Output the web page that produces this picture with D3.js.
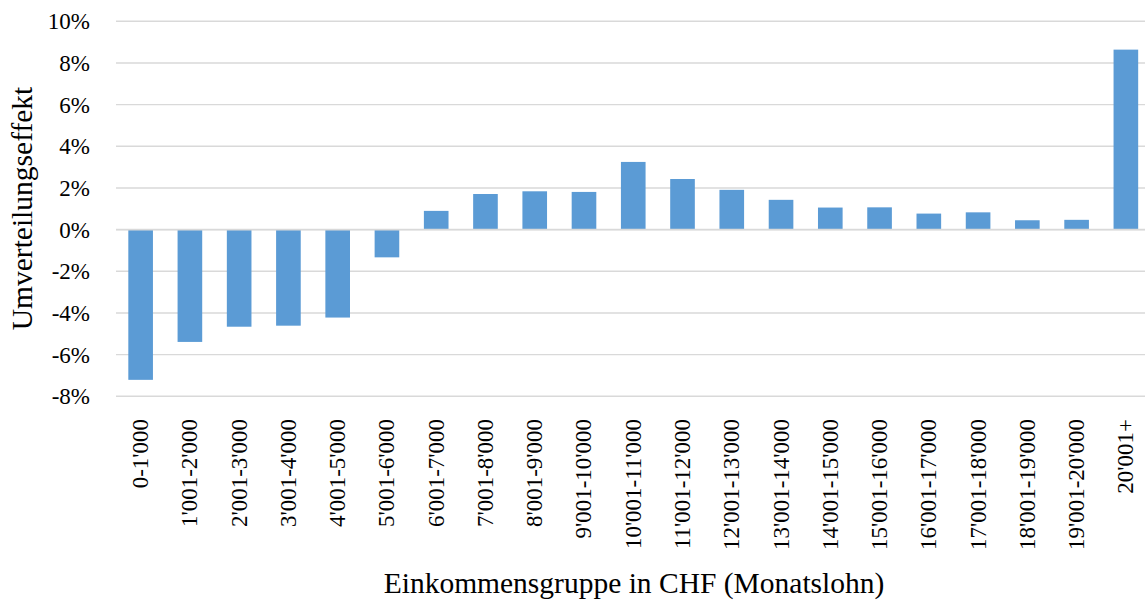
<!DOCTYPE html>
<html>
<head>
<meta charset="utf-8">
<script src="https://cdn.jsdelivr.net/npm/d3@7"></script>
<style>
  html, body { margin: 0; padding: 0; background: #fff; }
  svg { display: block; }
  text { font-family: "Liberation Serif", "DejaVu Serif", serif; fill: #000; }
</style>
</head>
<body>
<svg id="chart" width="1145" height="600"></svg>
<script>
// Income groups (monthly wage, CHF)
const categories = [
  "0-1'000", "1'001-2'000", "2'001-3'000", "3'001-4'000", "4'001-5'000",
  "5'001-6'000", "6'001-7'000", "7'001-8'000", "8'001-9'000", "9'001-10'000",
  "10'001-11'000", "11'001-12'000", "12'001-13'000", "13'001-14'000", "14'001-15'000",
  "15'001-16'000", "16'001-17'000", "17'001-18'000", "18'001-19'000", "19'001-20'000",
  "20'001+"
];

// Redistribution effect per group, in percent
const values = [
  -7.21, -5.39, -4.66, -4.61, -4.22,
  -1.33, 0.90, 1.71, 1.84, 1.81,
  3.25, 2.43, 1.91, 1.43, 1.06,
  1.07, 0.77, 0.83, 0.45, 0.47,
  8.64
];

const yTicks = [-8, -6, -4, -2, 0, 2, 4, 6, 8, 10];

const yTitle = "Umverteilungseffekt";
const xTitle = "Einkommensgruppe in CHF (Monatslohn)";

const svg = d3.select("#chart");
const W = 1145, H = 600;
const plot = { left: 116, right: 1150.5, top: 21.3, bottom: 396.3 };

const x = d3.scaleBand()
  .domain(categories)
  .range([plot.left, plot.right])
  .paddingInner(0.5)
  .paddingOuter(0.25);

const y = d3.scaleLinear()
  .domain([-8, 10])
  .range([plot.bottom, plot.top]);

// horizontal gridlines
svg.append("g")
  .selectAll("line")
  .data(yTicks)
  .join("line")
  .attr("x1", plot.left)
  .attr("x2", W)
  .attr("y1", d => y(d))
  .attr("y2", d => y(d))
  .attr("stroke", "#d9d9d9")
  .attr("stroke-width", 1.4);

// y tick labels
svg.append("g")
  .selectAll("text")
  .data(yTicks)
  .join("text")
  .attr("x", 90)
  .attr("y", d => y(d))
  .attr("dy", "0.35em")
  .attr("text-anchor", "end")
  .style("font-size", "23px")
  .text(d => d + "%");

// bars
svg.append("g")
  .selectAll("rect")
  .data(values)
  .join("rect")
  .attr("x", (d, i) => x(categories[i]))
  .attr("width", x.bandwidth())
  .attr("y", d => y(Math.max(0, d)))
  .attr("height", d => Math.abs(y(d) - y(0)))
  .attr("fill", "#5b9bd5");

// zero line drawn over the bars
svg.append("line")
  .attr("x1", plot.left)
  .attr("x2", W)
  .attr("y1", y(0))
  .attr("y2", y(0))
  .attr("stroke", "#d9d9d9")
  .attr("stroke-width", 1.6);

// x category labels, rotated
svg.append("g")
  .selectAll("text")
  .data(categories)
  .join("text")
  .attr("transform", d => `translate(${x(d) + x.bandwidth() / 2 + 7.5},419) rotate(-90)`)
  .attr("text-anchor", "end")
  .style("font-size", "23px")
  .text(d => d);

// axis titles
svg.append("text")
  .attr("transform", "translate(32,208.5) rotate(-90)")
  .attr("text-anchor", "middle")
  .style("font-size", "29.5px")
  .text(yTitle);

svg.append("text")
  .attr("x", 634)
  .attr("y", 593)
  .attr("text-anchor", "middle")
  .style("font-size", "29.5px")
  .text(xTitle);
</script>
</body>
</html>
